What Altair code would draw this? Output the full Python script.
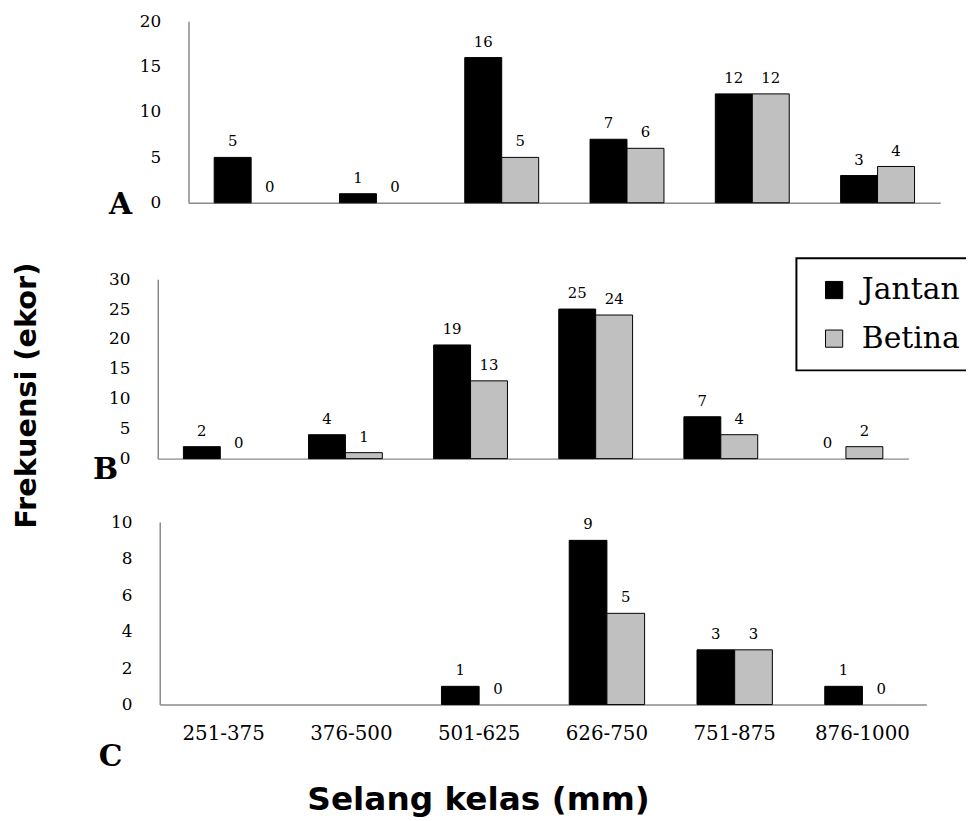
import altair as alt
import pandas as pd

categories = ["251-375", "376-500", "501-625", "626-750", "751-875", "876-1000"]
series = ["Jantan", "Betina"]
colors = ["#000000", "#c0c0c0"]

a_jantan = [5, 1, 16, 7, 12, 3]
a_betina = [0, 0, 5, 6, 12, 4]
b_jantan = [2, 4, 19, 25, 7, 0]
b_betina = [0, 1, 13, 24, 4, 2]
c_jantan = [None, None, 1, 9, 3, 1]
c_betina = [None, None, 0, 5, 3, 0]

a_ticks = [0, 5, 10, 15, 20]
b_ticks = [0, 5, 10, 15, 20, 25, 30]
c_ticks = [0, 2, 4, 6, 8, 10]

y_title = "Frekuensi (ekor)"
x_title = "Selang kelas (mm)"

SERIF = "DejaVu Serif"
SANS = "DejaVu Sans"
H = 813


def frame(jantan, betina):
    rows = []
    for cat, vj, vb in zip(categories, jantan, betina):
        for s, v in (("Jantan", vj), ("Betina", vb)):
            if v is not None:
                rows.append({"kelas": cat, "jenis": s, "frek": v})
    return pd.DataFrame(rows)


legend = alt.Legend(
    title=None, orient="none", legendX=795, legendY=249,
    strokeColor="black", padding=17, symbolOffset=6,
    labelOffset=13, rowPadding=19, symbolType="square", symbolSize=300,
    symbolStrokeColor="black", symbolStrokeWidth=1,
    labelFont=SERIF, labelFontSize=30, labelColor="black",
)


def panel(df, x_range, x_axis, y_domain, y_range, y_axis):
    x = alt.X("kelas:N", sort=categories,
              scale=alt.Scale(domain=categories, range=x_range,
                              paddingInner=0.41, paddingOuter=0.205),
              axis=x_axis)
    xo = alt.XOffset("jenis:N", sort=series,
                     scale=alt.Scale(domain=series, paddingInner=0, paddingOuter=0))
    y = alt.Y("frek:Q", scale=alt.Scale(domain=y_domain, range=y_range, nice=False),
              axis=y_axis)
    bars = alt.Chart(df).mark_bar(stroke="black", strokeWidth=1).encode(
        x=x, xOffset=xo, y=y,
        color=alt.Color("jenis:N", sort=series,
                        scale=alt.Scale(domain=series, range=colors), legend=legend),
    ).transform_filter("datum.frek > 0")
    texts = alt.Chart(df).mark_text(
        dy=-16, font=SERIF, fontSize=15, color="black", baseline="middle"
    ).encode(x=x, xOffset=xo, y=y, text="frek:Q")
    return alt.layer(bars, texts)


def y_axis(ticks, offset, letter, tx, ty):
    return alt.Axis(orient="left", values=ticks, offset=offset, ticks=False, grid=False,
                    labelPadding=28, title=letter, titleAngle=0, titleX=tx, titleY=ty,
                    titleFont=SERIF, titleFontSize=30, titleFontWeight="bold",
                    titleAlign="center", titleBaseline="middle", titleColor="black")


pA = panel(
    frame(a_jantan, a_betina), [182, 940],
    alt.Axis(orient="bottom", labels=False, ticks=False, grid=False, offset=193 - H,
             title=y_title, titleAngle=270, titleX=19, titleY=194, titleFont=SANS,
             titleFontSize=29, titleFontWeight="bold", titleAlign="center",
             titleBaseline="middle", titleColor="black"),
    [0, 20], [193, 10], y_axis(a_ticks, -182, "A", -69, 195),
)
pB = panel(
    frame(b_jantan, b_betina), [151, 908],
    alt.Axis(orient="bottom", labels=False, ticks=False, grid=False, offset=451 - H,
             title=None),
    [0, 30], [451, 270], y_axis(b_ticks, -151, "B", -53, 462),
)
pC = panel(
    frame(c_jantan, c_betina), [153, 926],
    alt.Axis(orient="bottom", ticks=False, grid=False, offset=699 - H, labelAngle=0,
             labelOverlap=False, labelPadding=19, labelFont=SERIF, labelFontSize=20,
             title=x_title, titleX=474, titleY=96, titleFont=SANS, titleFontSize=33,
             titleFontWeight="bold", titleAlign="center", titleBaseline="middle",
             titleColor="black"),
    [0, 10], [699, 515], y_axis(c_ticks, -153, "C", -50, 751),
)

chart = alt.layer(pA, pB, pC).resolve_scale(
    x="independent", y="independent", xOffset="independent"
).resolve_axis(
    x="independent", y="independent"
).properties(
    width=966, height=H, padding=0, autosize=alt.AutoSizeParams(type="none"),
).configure(font=SERIF).configure_view(strokeWidth=0).configure_axis(
    labelFont=SERIF, labelFontSize=17, labelColor="black",
    domainColor="#8a8a8a", domainWidth=1.5,
).configure_legend(
    strokeWidth=2, labelFont=SERIF, labelFontSize=30, labelColor="black",
)

chart.save("out.html", embed_options={"renderer": "svg", "actions": False})
